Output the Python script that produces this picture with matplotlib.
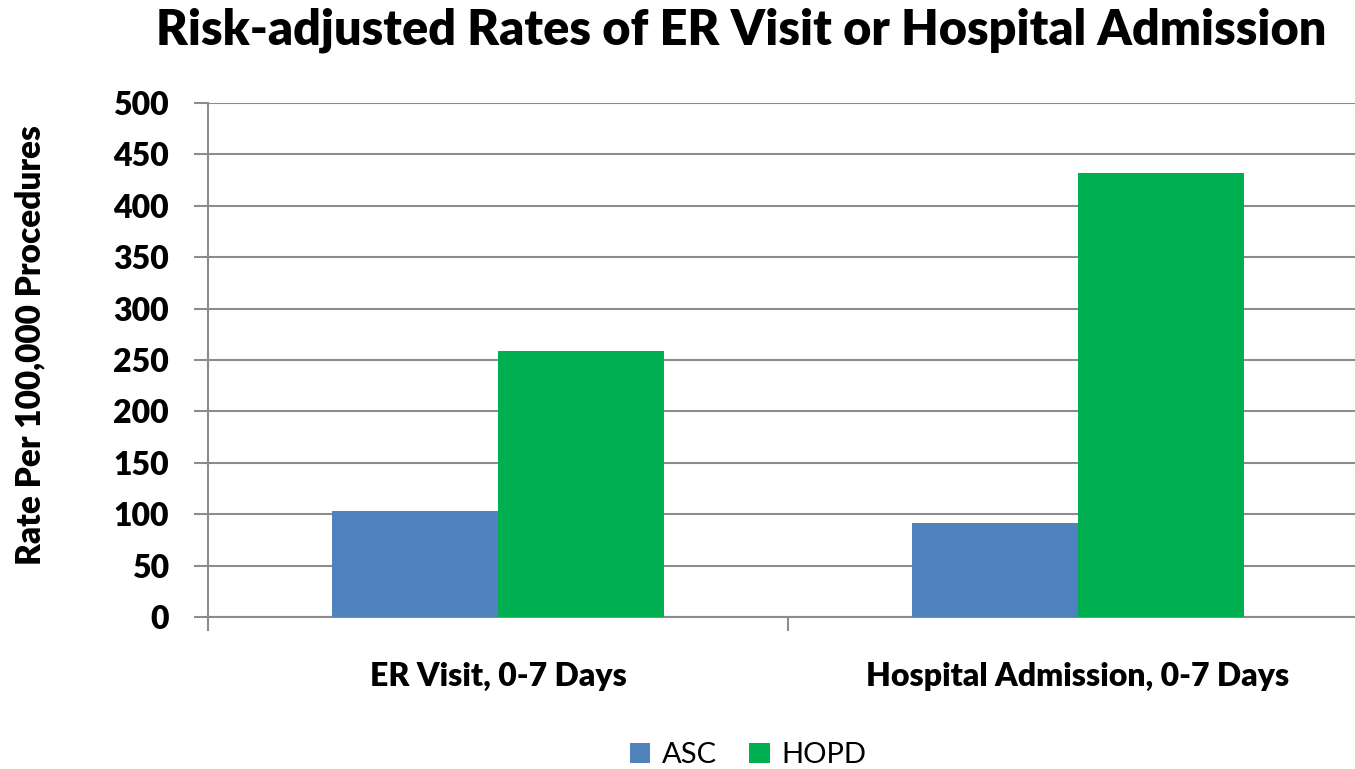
import numpy as np
import matplotlib.pyplot as plt

categories = ["ER Visit, 0-7 Days", "Hospital Admission, 0-7 Days"]
asc = [103, 91]
hopd = [259, 432]
yticks = [0, 50, 100, 150, 200, 250, 300, 350, 400, 450, 500]

plt.rcParams["font.family"] = ["Lato", "DejaVu Sans"]

fig = plt.figure(figsize=(13.55, 7.69), dpi=100)
ax = fig.add_axes([208 / 1355, 1 - 617 / 769, 1160 / 1355, 514 / 769])

x = np.arange(len(categories))
w = 1 / 3.5
ax.bar(x - w / 2, asc, w, color="#4F81BD", label="ASC", zorder=3)
ax.bar(x + w / 2, hopd, w, color="#00B050", label="HOPD", zorder=3)

ax.set_xlim(-0.5, 1.5)
ax.set_ylim(0, 500)
ax.set_yticks(yticks)
ax.set_yticklabels([str(t) for t in yticks], fontsize=23, fontweight="heavy")
ax.yaxis.grid(True, color="#8C8C8C", linewidth=1.5, zorder=0)
ax.set_axisbelow(True)

ax.set_xticks([-0.5, 0.5, 1.5])
ax.set_xticklabels([])
ax.set_xticks(x, minor=True)
ax.set_xticklabels(categories, minor=True, fontsize=23, fontweight="heavy")
ax.tick_params(axis="x", which="minor", length=0, pad=32)
ax.tick_params(axis="x", which="major", length=10, width=1.5, color="#8C8C8C")
ax.tick_params(axis="y", length=10, width=1.5, color="#8C8C8C", pad=18)

for s in ["top", "right"]:
    ax.spines[s].set_visible(False)
for s in ["left", "bottom"]:
    ax.spines[s].set_color("#8C8C8C")
    ax.spines[s].set_linewidth(1.5)

ax.set_ylabel("Rate Per 100,000 Procedures", fontsize=24, fontweight="heavy")
ax.yaxis.set_label_coords(-0.139, 0.529)

fig.suptitle("Risk-adjusted Rates of ER Visit or Hospital Admission",
             x=741 / 1355, y=0.99, fontsize=35, fontweight="heavy")

fig.legend(loc="center", bbox_to_anchor=(748 / 1355, 1 - 755 / 769), ncol=2,
           frameon=False, fontsize=21, handlelength=0.7, handleheight=0.7,
           handletextpad=0.4, columnspacing=1.1)

fig.savefig("out.png", dpi=100)
